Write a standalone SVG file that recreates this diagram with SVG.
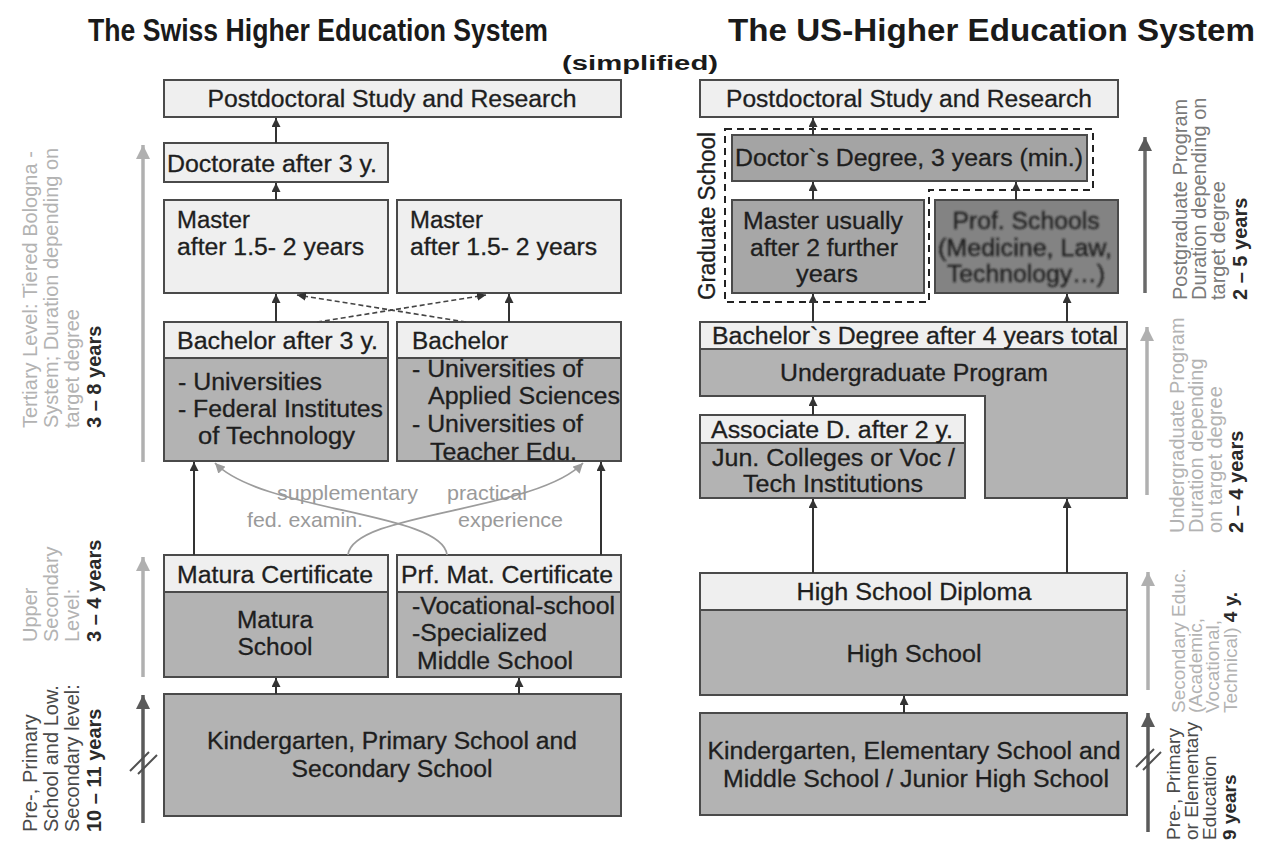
<svg xmlns="http://www.w3.org/2000/svg" width="1274" height="841" viewBox="0 0 1274 841">
  <style>
    .t { font-family: "Liberation Sans", Arial, sans-serif; fill: #1e1e1e; stroke: #1e1e1e; stroke-width: 0.3px; font-size: 23px; }
    .c { text-anchor: middle; }
    .ttl { font-family: "Liberation Sans", Arial, sans-serif; font-weight: bold; fill: #1a1a1a; font-size: 31px; }
    .lt { fill: #efefef; stroke: #4a4a4a; stroke-width: 2; }
    .dk { fill: #b3b3b3; stroke: #4a4a4a; stroke-width: 2; }
    .conn { stroke: #333; stroke-width: 2; fill: none; marker-end: url(#ah); }
    .dash { stroke: #444; stroke-width: 1.6; fill: none; stroke-dasharray: 5 3; marker-end: url(#ah); }
    .soft { stroke: #9c9c9c; stroke-width: 1.8; fill: none; marker-end: url(#ahg); }
    .gl { font-family: "Liberation Sans", Arial, sans-serif; fill: #9a9a9a; font-size: 21px; }
    .side { font-family: "Liberation Sans", Arial, sans-serif; font-size: 20px; }
    .sm { font-size: 19px; }
    .pale { fill: #b3b3b3; }
    .mid { fill: #7a7a7a; }
    .deep { fill: #4a4a4a; }
    .yrs { fill: #2a2a2a; font-weight: bold; }
    .axl { stroke: #b0b0b0; stroke-width: 3.5; marker-end: url(#axl); }
    .axd { stroke: #5a5a5a; stroke-width: 3.5; marker-end: url(#axd); }
    .axm { stroke: #6a6a6a; stroke-width: 3.5; marker-end: url(#axd); }
    .brk { stroke: #505050; stroke-width: 2; }
  </style>
  <defs>
    <marker id="ah" viewBox="0 0 10 10" refX="10" refY="5" markerWidth="9" markerHeight="9" markerUnits="userSpaceOnUse" orient="auto">
      <path d="M0,0 L10,5 L0,10 z" fill="#333"/>
    </marker>
    <marker id="ahg" viewBox="0 0 10 10" refX="10" refY="5" markerWidth="10" markerHeight="10" markerUnits="userSpaceOnUse" orient="auto">
      <path d="M0,0 L10,5 L0,10 z" fill="#9c9c9c"/>
    </marker>
    <marker id="axl" viewBox="0 0 10 10" refX="10" refY="5" markerWidth="14" markerHeight="14" markerUnits="userSpaceOnUse" orient="auto">
      <path d="M0,0 L10,5 L0,10 z" fill="#b0b0b0"/>
    </marker>
    <marker id="axd" viewBox="0 0 10 10" refX="10" refY="5" markerWidth="14" markerHeight="14" markerUnits="userSpaceOnUse" orient="auto">
      <path d="M0,0 L10,5 L0,10 z" fill="#5a5a5a"/>
    </marker>
    <filter id="soften" x="-5%" y="-10%" width="110%" height="120%">
      <feGaussianBlur stdDeviation="0.8"/>
    </filter>
  </defs>

  <rect width="1274" height="841" fill="#ffffff"/>

  <!-- headings -->
  <g id="titles">
    <text class="ttl" x="88" y="41" textLength="460" lengthAdjust="spacingAndGlyphs">The Swiss Higher Education System</text>
    <text class="ttl" x="728" y="41" textLength="527" lengthAdjust="spacingAndGlyphs">The US-Higher Education System</text>
    <text class="ttl" x="640" y="70" text-anchor="middle" style="font-size:20px" textLength="156" lengthAdjust="spacingAndGlyphs">(simplified)</text>
  </g>

  <!-- ===== Swiss system ===== -->
  <g id="ch-postdoc">
    <rect class="lt" x="164" y="80" width="457" height="37"/>
    <text class="t c" x="392" y="107" textLength="369" lengthAdjust="spacingAndGlyphs">Postdoctoral Study and Research</text>
  </g>
  <g id="ch-doctorate">
    <rect class="lt" x="164" y="143" width="224" height="39"/>
    <text class="t" x="167" y="172" textLength="210" lengthAdjust="spacingAndGlyphs">Doctorate after 3 y.</text>
  </g>
  <g id="ch-master-uni">
    <rect class="lt" x="164" y="200" width="224" height="93"/>
    <text class="t" x="177" y="228" textLength="73" lengthAdjust="spacingAndGlyphs">Master</text>
    <text class="t" x="177" y="255" textLength="187" lengthAdjust="spacingAndGlyphs">after 1.5- 2 years</text>
  </g>
  <g id="ch-master-uas">
    <rect class="lt" x="397" y="200" width="224" height="93"/>
    <text class="t" x="410" y="228" textLength="73" lengthAdjust="spacingAndGlyphs">Master</text>
    <text class="t" x="410" y="255" textLength="187" lengthAdjust="spacingAndGlyphs">after 1.5- 2 years</text>
  </g>
  <g id="ch-bachelor-uni">
    <rect class="lt" x="164" y="322" width="224" height="36"/>
    <rect class="dk" x="164" y="358" width="224" height="103"/>
    <text class="t" x="177" y="349" textLength="201" lengthAdjust="spacingAndGlyphs">Bachelor after 3 y.</text>
    <text class="t" x="178" y="390" textLength="144" lengthAdjust="spacingAndGlyphs">- Universities</text>
    <text class="t" x="178" y="417" textLength="205" lengthAdjust="spacingAndGlyphs">- Federal Institutes</text>
    <text class="t" x="198" y="444" textLength="157" lengthAdjust="spacingAndGlyphs">of Technology</text>
  </g>
  <g id="ch-bachelor-uas">
    <rect class="lt" x="397" y="322" width="224" height="36"/>
    <rect class="dk" x="397" y="358" width="224" height="103"/>
    <text class="t" x="412" y="349" textLength="96" lengthAdjust="spacingAndGlyphs">Bachelor</text>
    <text class="t" x="412" y="377" textLength="171" lengthAdjust="spacingAndGlyphs">- Universities of</text>
    <text class="t" x="428" y="404" textLength="192" lengthAdjust="spacingAndGlyphs">Applied Sciences</text>
    <text class="t" x="412" y="432" textLength="171" lengthAdjust="spacingAndGlyphs">- Universities of</text>
    <text class="t" x="430" y="460" textLength="147" lengthAdjust="spacingAndGlyphs">Teacher Edu.</text>
  </g>
  <g id="ch-matura">
    <rect class="lt" x="164" y="555" width="224" height="37"/>
    <rect class="dk" x="164" y="592" width="224" height="85"/>
    <text class="t" x="177" y="583" textLength="196" lengthAdjust="spacingAndGlyphs">Matura Certificate</text>
    <text class="t c" x="275" y="628" textLength="76" lengthAdjust="spacingAndGlyphs">Matura</text>
    <text class="t c" x="275" y="655" textLength="75" lengthAdjust="spacingAndGlyphs">School</text>
  </g>
  <g id="ch-prof-matura">
    <rect class="lt" x="397" y="555" width="224" height="37"/>
    <rect class="dk" x="397" y="592" width="224" height="85"/>
    <text class="t" x="401" y="583" textLength="212" lengthAdjust="spacingAndGlyphs">Prf. Mat. Certificate</text>
    <text class="t" x="412" y="614" textLength="203" lengthAdjust="spacingAndGlyphs">-Vocational-school</text>
    <text class="t" x="412" y="641" textLength="135" lengthAdjust="spacingAndGlyphs">-Specialized</text>
    <text class="t" x="417" y="669" textLength="156" lengthAdjust="spacingAndGlyphs">Middle School</text>
  </g>
  <g id="ch-compulsory">
    <rect class="dk" x="164" y="694" width="457" height="122"/>
    <text class="t c" x="392" y="749" textLength="370" lengthAdjust="spacingAndGlyphs">Kindergarten, Primary School and</text>
    <text class="t c" x="392" y="777" textLength="201" lengthAdjust="spacingAndGlyphs">Secondary School</text>
  </g>

  <!-- ===== US system ===== -->
  <g id="us-postdoc">
    <rect class="lt" x="700" y="80" width="418" height="37"/>
    <text class="t c" x="909" y="107" textLength="366" lengthAdjust="spacingAndGlyphs">Postdoctoral Study and Research</text>
  </g>
  <g id="us-graduate-school">
    <path d="M725,129 H1093 V190 H929 V302 H725 Z" fill="none" stroke="#222" stroke-width="2" stroke-dasharray="7 5"/>
    <text class="t" transform="translate(715,300) rotate(-90)" style="font-size:23px" textLength="168" lengthAdjust="spacingAndGlyphs">Graduate School</text>
  </g>
  <g id="us-doctor">
    <rect x="732" y="135" width="355" height="46" fill="#a4a4a4" stroke="#4a4a4a" stroke-width="2"/>
    <text class="t c" x="909" y="166" textLength="348" lengthAdjust="spacingAndGlyphs">Doctor`s Degree, 3 years (min.)</text>
  </g>
  <g id="us-master">
    <rect x="732" y="200" width="192" height="93" fill="#a7a7a7" stroke="#4a4a4a" stroke-width="2"/>
    <text class="t c" x="823" y="229" textLength="160" lengthAdjust="spacingAndGlyphs">Master usually</text>
    <text class="t c" x="824" y="256" textLength="148" lengthAdjust="spacingAndGlyphs">after 2 further</text>
    <text class="t c" x="827" y="282" textLength="62" lengthAdjust="spacingAndGlyphs">years</text>
  </g>
  <g id="us-prof-schools">
    <rect x="935" y="200" width="183" height="93" fill="#838383" stroke="#4a4a4a" stroke-width="2"/>
    <g filter="url(#soften)">
      <text class="t c" x="1026" y="229" textLength="147" lengthAdjust="spacingAndGlyphs">Prof. Schools</text>
      <text class="t c" x="1025" y="256" textLength="174" lengthAdjust="spacingAndGlyphs">(Medicine, Law,</text>
      <text class="t c" x="1026" y="282" textLength="158" lengthAdjust="spacingAndGlyphs">Technology…)</text>
    </g>
  </g>
  <g id="us-bachelor">
    <path class="dk" d="M700,349 H1127 V498 H985 V396 H700 Z"/>
    <rect class="lt" x="700" y="322" width="427" height="27"/>
    <text class="t" x="712" y="344" textLength="406" lengthAdjust="spacingAndGlyphs">Bachelor`s Degree after 4 years total</text>
    <text class="t c" x="914" y="381" textLength="268" lengthAdjust="spacingAndGlyphs">Undergraduate Program</text>
  </g>
  <g id="us-associate">
    <rect class="lt" x="700" y="415" width="265" height="28"/>
    <rect class="dk" x="700" y="443" width="265" height="55"/>
    <text class="t" x="711" y="438" textLength="242" lengthAdjust="spacingAndGlyphs">Associate D. after 2 y.</text>
    <text class="t" x="712" y="466" textLength="243" lengthAdjust="spacingAndGlyphs">Jun. Colleges or Voc /</text>
    <text class="t c" x="833" y="492" textLength="180" lengthAdjust="spacingAndGlyphs">Tech Institutions</text>
  </g>
  <g id="us-high-school">
    <rect class="lt" x="700" y="573" width="427" height="37"/>
    <rect class="dk" x="700" y="610" width="427" height="85"/>
    <text class="t c" x="914" y="600" textLength="235" lengthAdjust="spacingAndGlyphs">High School Diploma</text>
    <text class="t c" x="914" y="662" textLength="135" lengthAdjust="spacingAndGlyphs">High School</text>
  </g>
  <g id="us-elementary">
    <rect class="dk" x="700" y="713" width="427" height="102"/>
    <text class="t c" x="914" y="759" textLength="413" lengthAdjust="spacingAndGlyphs">Kindergarten, Elementary School and</text>
    <text class="t c" x="916" y="787" textLength="386" lengthAdjust="spacingAndGlyphs">Middle School / Junior High School</text>
  </g>

  <!-- connectors -->
  <g id="connectors">
    <line class="conn" x1="276" y1="143" x2="276" y2="118"/>
    <line class="conn" x1="276" y1="200" x2="276" y2="183"/>
    <line class="conn" x1="276" y1="322" x2="276" y2="294"/>
    <line class="conn" x1="509" y1="322" x2="509" y2="294"/>
    <line class="dash" x1="317" y1="322" x2="486" y2="295"/>
    <line class="dash" x1="466" y1="322" x2="297" y2="295"/>
    <line class="conn" x1="194" y1="555" x2="194" y2="462"/>
    <line class="conn" x1="601" y1="555" x2="601" y2="462"/>
    <path class="soft" d="M447,555 C443,512 262,512 215,463"/>
    <path class="soft" d="M348,555 C352,512 536,512 583,463"/>
    <line class="conn" x1="276" y1="694" x2="276" y2="678"/>
    <line class="conn" x1="519" y1="694" x2="519" y2="678"/>

    <line class="conn" x1="813" y1="135" x2="813" y2="118"/>
    <line class="conn" x1="813" y1="200" x2="813" y2="182"/>
    <line class="conn" x1="1016" y1="200" x2="1016" y2="182"/>
    <line class="conn" x1="813" y1="322" x2="813" y2="294"/>
    <line class="conn" x1="1067" y1="322" x2="1067" y2="294"/>
    <line class="conn" x1="813" y1="415" x2="813" y2="397"/>
    <line class="conn" x1="813" y1="573" x2="813" y2="499"/>
    <line class="conn" x1="1067" y1="573" x2="1067" y2="499"/>
    <line class="conn" x1="904" y1="713" x2="904" y2="696"/>
  </g>

  <!-- route labels between the Swiss tracks -->
  <g id="ch-route-labels">
    <text class="gl" x="277" y="500" textLength="141" lengthAdjust="spacingAndGlyphs">supplementary</text>
    <text class="gl" x="447" y="500" textLength="80" lengthAdjust="spacingAndGlyphs">practical</text>
    <text class="gl" x="247" y="527" textLength="116" lengthAdjust="spacingAndGlyphs">fed. examin.</text>
    <text class="gl" x="458" y="527" textLength="105" lengthAdjust="spacingAndGlyphs">experience</text>
  </g>

  <!-- duration scale, Swiss side -->
  <g id="ch-scale">
    <line class="axl" x1="143" y1="462" x2="143" y2="145"/>
    <line class="axl" x1="143" y1="677" x2="143" y2="557"/>
    <line class="axd" x1="143" y1="823" x2="143" y2="695"/>
    <line class="brk" x1="130" y1="771" x2="149" y2="752"/>
    <line class="brk" x1="138" y1="774" x2="157" y2="755"/>

    <text class="side pale" transform="translate(37,428) rotate(-90)">Tertiary Level: Tiered Bologna -</text>
    <text class="side pale" transform="translate(58,428) rotate(-90)">System; Duration depending on</text>
    <text class="side pale" transform="translate(79,428) rotate(-90)">target degree</text>
    <text class="side yrs" transform="translate(101,428) rotate(-90)">3 – 8 years</text>

    <text class="side pale" transform="translate(37,642) rotate(-90)">Upper</text>
    <text class="side pale" transform="translate(58,642) rotate(-90)">Secondary</text>
    <text class="side pale" transform="translate(79,642) rotate(-90)">Level:</text>
    <text class="side yrs" transform="translate(101,642) rotate(-90)">3 – 4 years</text>

    <text class="side deep" transform="translate(37,832) rotate(-90)">Pre-, Primary</text>
    <text class="side deep" transform="translate(58,832) rotate(-90)">School and Low.</text>
    <text class="side deep" transform="translate(79,832) rotate(-90)">Secondary level:</text>
    <text class="side yrs" transform="translate(101,832) rotate(-90)">10 – 11 years</text>
  </g>

  <!-- duration scale, US side -->
  <g id="us-scale">
    <line class="axm" x1="1145" y1="293" x2="1145" y2="137"/>
    <line class="axl" x1="1147" y1="495" x2="1147" y2="327"/>
    <line class="axl" x1="1148" y1="690" x2="1148" y2="572"/>
    <line class="axd" x1="1148" y1="832" x2="1148" y2="713"/>
    <line class="brk" x1="1136" y1="767" x2="1154" y2="749"/>
    <line class="brk" x1="1143" y1="770" x2="1161" y2="752"/>

    <text class="side mid" transform="translate(1187,300) rotate(-90)">Postgraduate Program</text>
    <text class="side mid" transform="translate(1206,300) rotate(-90)">Duration depending on</text>
    <text class="side mid" transform="translate(1225,300) rotate(-90)">target degree</text>
    <text class="side yrs" transform="translate(1247,300) rotate(-90)">2 – 5  years</text>

    <text class="side pale" transform="translate(1184,533) rotate(-90)">Undergraduate Program</text>
    <text class="side pale" transform="translate(1203,533) rotate(-90)">Duration depending</text>
    <text class="side pale" transform="translate(1222,533) rotate(-90)">on target degree</text>
    <text class="side yrs" transform="translate(1243,533) rotate(-90)">2 – 4 years</text>

    <text class="side sm pale" transform="translate(1185,713) rotate(-90)">Secondary Educ.</text>
    <text class="side sm pale" transform="translate(1202,713) rotate(-90)">(Academic,</text>
    <text class="side sm pale" transform="translate(1219,713) rotate(-90)">Vocational,</text>
    <text class="side sm pale" transform="translate(1237,713) rotate(-90)">Technical) <tspan class="yrs">4 y.</tspan></text>

    <text class="side sm deep" transform="translate(1180,840) rotate(-90)">Pre-, Primary</text>
    <text class="side sm deep" transform="translate(1198,840) rotate(-90)">or Elementary</text>
    <text class="side sm deep" transform="translate(1216,840) rotate(-90)">Education</text>
    <text class="side sm yrs" transform="translate(1236,840) rotate(-90)">9 years</text>
  </g>
</svg>
